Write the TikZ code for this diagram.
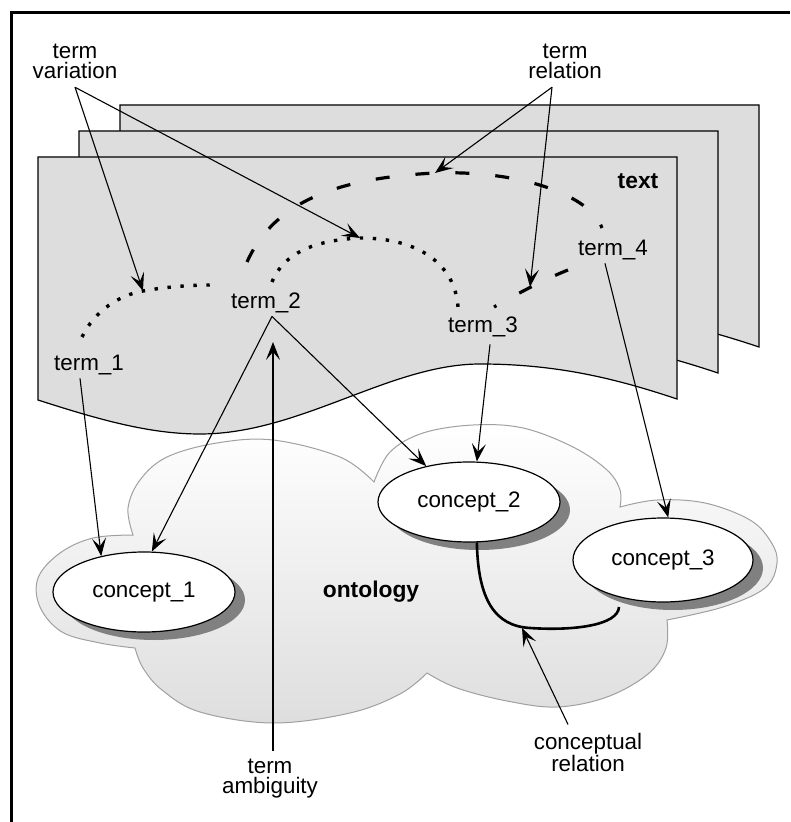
\documentclass[tikz,border=0pt]{standalone}
\usepackage{fontspec}
\setmainfont{Liberation Sans}
\usetikzlibrary{arrows.meta,shadows,shapes.geometric,calc}
\definecolor{sheetgray}{RGB}{221,221,221}
\definecolor{cloudline}{RGB}{160,160,160}
\begin{document}
\begin{tikzpicture}[x=0.5pt,y=-0.5pt,
  lbl/.style={font=\fontsize{11.2}{10}\selectfont, align=center, inner sep=4pt},
  termtxt/.style={font=\fontsize{11.2}{13}\selectfont, inner sep=1.5pt},
  boldtxt/.style={font=\bfseries\fontsize{11.4}{13}\selectfont, inner sep=1.5pt},
  concept/.style={ellipse, draw, line width=0.6pt, fill=white, minimum width=91pt,
    minimum height=40pt, inner sep=0pt, font=\fontsize{11.2}{13}\selectfont,
    drop shadow={shadow xshift=5pt,shadow yshift=-4pt,fill=black!50,opacity=1}},
  arr/.style={-{Stealth[length=9pt,width=7pt,inset=4pt]}, line width=0.55pt},
  sheetstyle/.style={fill=sheetgray, draw=black, line width=0.6pt},
  dotline/.style={line width=1.7pt, dash pattern=on 1.7pt off 4.8pt},
  dashline/.style={line width=1.6pt, dash pattern=on 7pt off 13pt},
  relline/.style={line width=1.3pt}
]
\useasboundingbox (0,0) rectangle (790,822);
% frame
\draw[line width=1.5pt] (11,822) -- (11,13) -- (790,13);

% ontology cloud
\draw[draw=cloudline, line width=0.5pt, top color=white, bottom color=black!13]
  plot[smooth, tension=0.6] coordinates {(133,535) (93,538) (60,553) (38,578) (40,607) (62,632) (100,643) (135,648)}
  -- plot[smooth, tension=0.6] coordinates {(135,648) (143,668) (162,690) (200,712) (273,723) (350,713) (400,694) (427,673)}
  -- plot[smooth, tension=0.6] coordinates {(427,673) (457,688) (507,701) (557,707) (607,697) (648,674) (666,648) (667,620)}
  -- plot[smooth, tension=0.6] coordinates {(667,620) (723,607) (765,588) (777,563) (771,542) (750,520) (705,503) (657,500) (620,507)}
  -- plot[smooth, tension=0.6] coordinates {(620,507) (620,490) (607,470) (573,447) (523,428) (473,425) (423,433) (390,452) (374,482)}
  -- plot[smooth, tension=0.6] coordinates {(374,482) (340,457) (273,440) (217,443) (167,457) (140,480) (128,508) (133,535)}
  -- cycle;

% text sheets
\foreach \dx/\dy in {82/-52,41/-26,0/0}{
  \draw[sheetstyle, shift={(\dx,\dy)}] (38,157) -- (677,157) -- (677,399)
    .. controls (620,380) and (560,364) .. (480,364)
    .. controls (390,364) and (300,434) .. (200,434)
    .. controls (150,434) and (100,420) .. (38,400) -- cycle;
}

% labels
\node[boldtxt] (textlbl) at (638,181) {text};
\node[boldtxt] (ontolbl) at (371,592) {ontology};
\node[lbl] (tv) at (75,61.5) {term\\variation};
\node[lbl] (tr) at (565,61.5) {term\\relation};
\node[lbl] (ta) at (270,778.5) {term\\ambiguity};
\node[lbl] (cr) at (588,752.5) {conceptual\\relation};

% terms
\node[termtxt] (t1) at (89,365) {term\_1};
\node[termtxt] (t2) at (266,303) {term\_2};
\node[termtxt] (t3) at (483,327) {term\_3};
\node[termtxt] (t4) at (613,250) {term\_4};

% concepts
\node[concept] (c1) at (144,592) {concept\_1};
\node[concept] (c2) at (469,502) {concept\_2};
\node[concept, minimum width=90pt, minimum height=42pt] (c3) at (663,560) {concept\_3};

% free ends on the curves
\coordinate (va) at (143,291);
\coordinate (vb) at (360,238);
\coordinate (ra) at (435,173);
\coordinate (rb) at (530,287);
\coordinate (amb) at (273,342);
\coordinate (crtip) at (522,628);
\coordinate (crend) at (619,607);

% term variation (dotted)
\draw[dotline] (82,337) .. controls (95,310) and (120,295) .. (va)
  .. controls (165,287) and (190,285) .. (210,285);
\draw[dotline] (272,282) .. controls (285,250) and (320,240) .. (vb)
  .. controls (420,238) and (455,265) .. (458,307);

% term relation (dashed)
\draw[dashline] (247,262) .. controls (275,200) and (340,178) .. (ra)
  .. controls (520,170) and (590,195) .. (602,228);
\draw[dashline] (568,270) .. controls (550,277) and (520,292) .. (494,307);

% conceptual relation
\draw[relline] (c2.-79) .. controls (478,600) and (495,626) .. (530,628)
  .. controls (575,631) and (618,625) .. (crend);

% label arrows
\draw[arr] (tv.south) -- (va);
\draw[arr] (tv.south) -- (vb);
\draw[arr] ([xshift=-6.5pt]tr.south) -- (ra);
\draw[arr] ([xshift=-6.5pt]tr.south) -- (rb);
\draw[arr] (amb |- ta.north) -- (amb);
\draw[arr] ([xshift=-10pt]cr.north) -- (crtip);

% term to concept arrows
\draw[arr] ([xshift=-4.5pt]t1.south) -- (c1.140);
\draw[arr] ([xshift=3pt]t2.south) -- (c1.79);
\draw[arr] ([xshift=3pt]t2.south) -- (c2.140);
\draw[arr] ([xshift=3.5pt,yshift=-2pt]t3.south) -- (c2.79);
\draw[arr] ([xshift=-4pt]t4.south) -- (c3.83);
\end{tikzpicture}
\end{document}
